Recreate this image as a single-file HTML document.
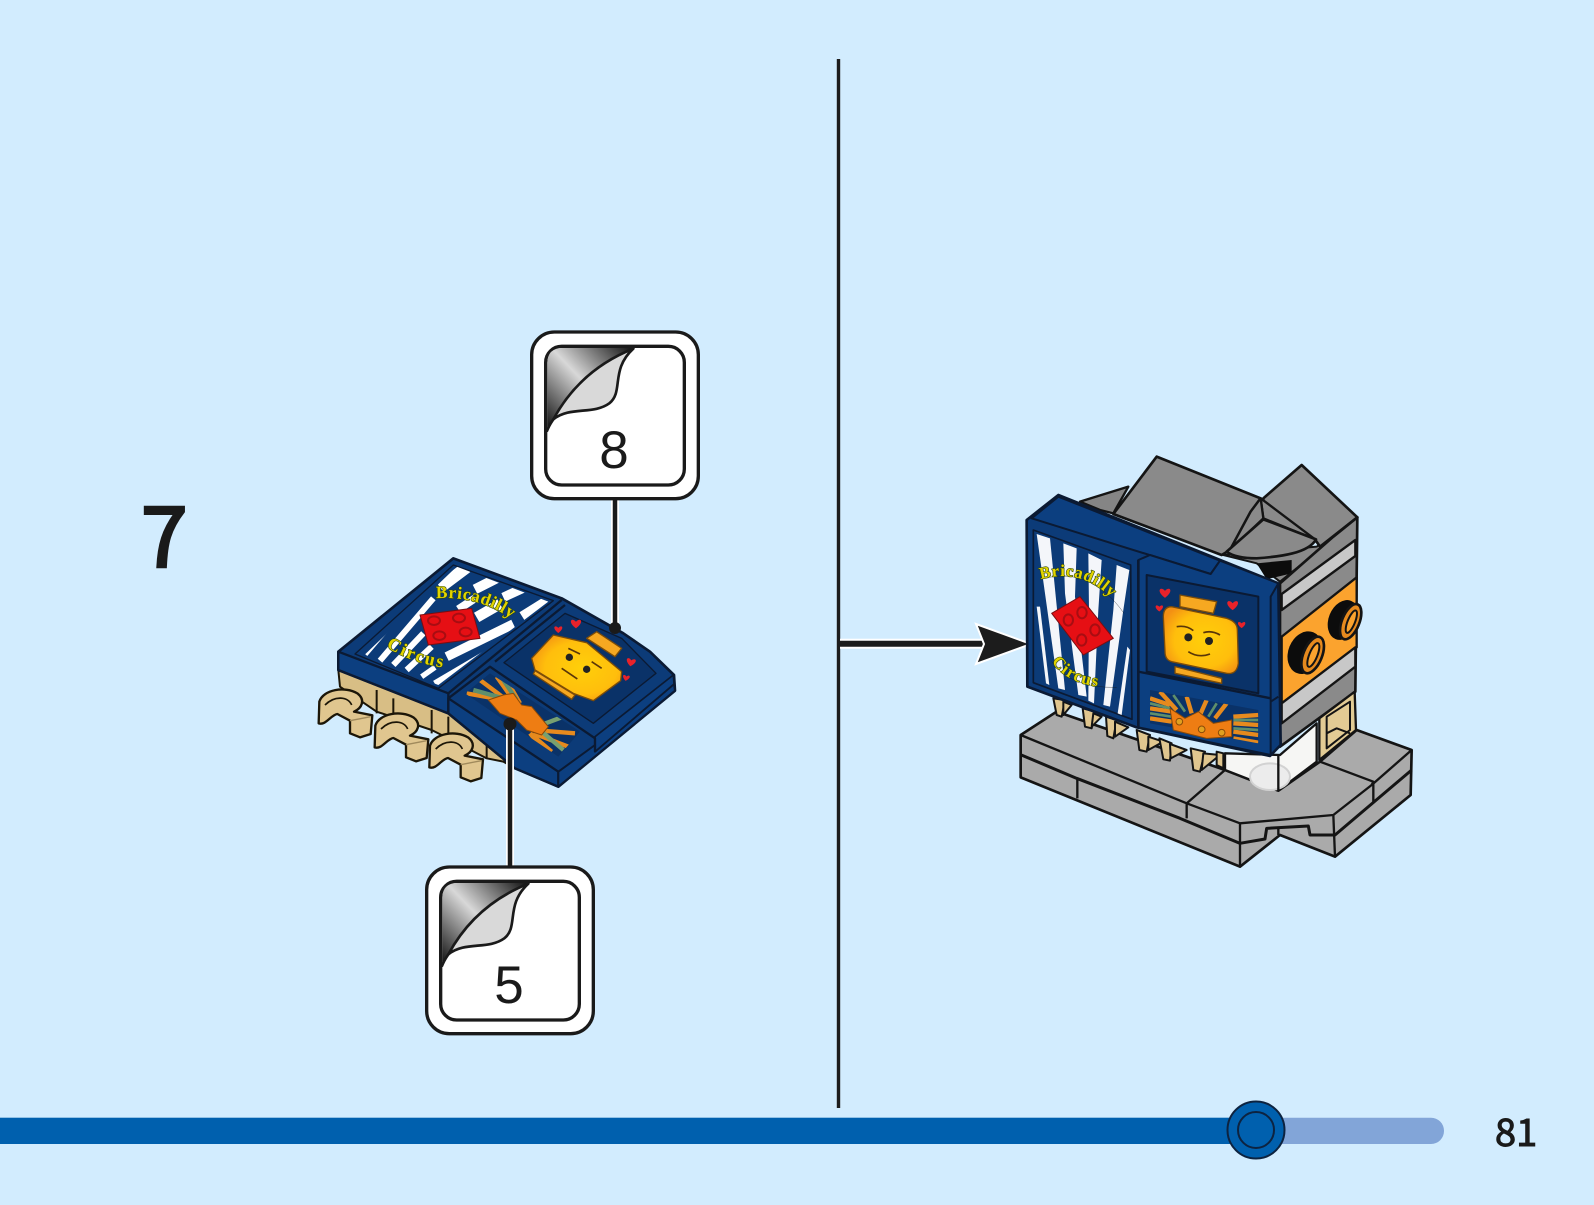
<!DOCTYPE html>
<html><head><meta charset="utf-8"><style>
html,body{margin:0;padding:0;background:#d2ecfe}
svg{display:block}
.n{font-family:"Noto Sans CJK JP","Liberation Sans",sans-serif}
.d{font-family:"Liberation Sans",sans-serif}
.gt{font-family:"Liberation Serif",serif;font-weight:bold;fill:#e2d400;stroke:#2a4410;stroke-width:3.5;paint-order:stroke}
</style></head><body>
<svg width="1594" height="1205" viewBox="0 0 1594 1205" xmlns="http://www.w3.org/2000/svg">
<defs>
<linearGradient id="cg" gradientUnits="userSpaceOnUse" x1="85" y1="330" x2="340" y2="85">
<stop offset="0" stop-color="#111"/><stop offset=".5" stop-color="#d8d8d8"/><stop offset="1" stop-color="#111"/>
</linearGradient>
<radialGradient id="hd" cx=".55" cy=".5" r=".62">
<stop offset="0" stop-color="#ffcf0a"/><stop offset=".65" stop-color="#ffbe0c"/><stop offset="1" stop-color="#f39013"/>
</radialGradient>
<g id="call">
<rect x="35" y="36" width="500" height="500" rx="68" fill="#fff" stroke="#1a1a1a" stroke-width="10"/>
<rect x="77" y="79" width="416" height="416" rx="48" fill="#fff" stroke="#1a1a1a" stroke-width="10"/>
<path d="M82,330 L82,130 Q82,84 128,84 L345,84 Q180,150 82,330Z" fill="url(#cg)"/>
<path d="M340,86 Q180,150 100,298 C150,258 220,285 268,250 C312,215 270,150 340,86Z" fill="#d9d9d9" stroke="#1a1a1a" stroke-width="8" stroke-linejoin="round"/>
<path d="M80,335 C90,310 96,305 100,298" fill="none" stroke="#1a1a1a" stroke-width="8"/>
</g>
<clipPath id="cpL"><path d="M190,378 L470,110 L745,215 L415,465Z"/></clipPath>
<clipPath id="cpBL"><path d="M495,490 L570,430 L840,605 L775,680Z"/></clipPath>
<clipPath id="cpBR"><path d="M450,750 L775,810 L775,910 L450,850Z"/></clipPath>
<g id="claw">
<path d="M58,515 C70,478 135,468 172,490 C198,510 185,535 162,545 L217,556 L212,612 L180,622 L150,610 L150,572 L112,552 C92,555 78,587 56,580Z" fill="#e0c68f" stroke="#1c1608" stroke-width="7" stroke-linejoin="round"/>
<path d="M150,572 L212,560" stroke="#a08a5c" stroke-width="4" fill="none"/>
<path d="M75,525 C105,495 145,500 155,525" stroke="#1c1608" stroke-width="5" fill="none"/>
</g>
<g id="heart"><path d="M0,8 C-14,-8 -30,8 0,30 C30,8 14,-8 0,8Z"/></g>
</defs>
<rect width="1594" height="1205" fill="#d2ecfe"/>

<!-- divider -->
<line x1="838.5" y1="59" x2="838.5" y2="1108" stroke="#1c1c1c" stroke-width="3.4"/>
<!-- step arrow -->
<line x1="840" y1="643.7" x2="985" y2="643.7" stroke="#fff" stroke-width="10"/>
<line x1="840" y1="643.7" x2="985" y2="643.7" stroke="#1c1c1c" stroke-width="6"/>
<path d="M976,624 L1031,644 L976,664 L984,644Z" fill="#1c1c1c" stroke="#fff" stroke-width="2"/>

<!-- step number -->
<text class="n" x="141" y="567" font-size="84" fill="#1a1a1a" stroke="#1a1a1a" stroke-width="2.6">7</text>

<!-- left model -->
<g transform="translate(300,530) scale(.33333)" stroke-linejoin="round">
<path d="M115,420 L445,545 L645,715 L610,695 L560,685 L445,625 L395,600 L230,545 L120,470Z" fill="#d8be85" stroke="#1c1608" stroke-width="6"/>
<path d="M230,480 V550 M280,505 V560 M395,540 V610 M445,560 V620 M560,620 V685" stroke="#1c1608" stroke-width="6"/>
<use href="#claw"/><use href="#claw" x="168" y="72"/><use href="#claw" x="332" y="132"/>

<path d="M115,365 L460,85 L785,205 L970,310 L1050,365 L1122,435 L1125,482 L775,770 L645,715 L445,550 L115,420Z" fill="#0c3b78" stroke="#0b1a33" stroke-width="8"/>
<path d="M115,365 L445,490 L445,550 L115,420Z" fill="#0c3f80" stroke="#0b1a33" stroke-width="7"/>
<path d="M445,505 L775,725 L775,770 L645,715 L445,550Z" fill="#0c3f80" stroke="#0b1a33" stroke-width="7"/>
<path d="M775,725 L885,645 L885,665 L1122,462 L1125,482 L775,770Z" fill="#0c3f80" stroke="#0b1a33" stroke-width="6"/>
<path d="M885,620 L1120,435 L1122,462 L885,665Z" fill="#0c3f80" stroke="#0b1a33" stroke-width="5"/>
<path d="M445,490 L785,210 M445,505 L570,410 L885,625 L885,665 M585,395 L795,225" stroke="#0b1a33" stroke-width="7" fill="none"/>

<path d="M165,372 L460,105 L760,212 L415,475Z" fill="#0c3b78" stroke="#0b1a33" stroke-width="4"/>
<g clip-path="url(#cpL)" stroke="#fff" fill="none" stroke-linecap="butt">
<path d="M195,372 L310,238 M240,392 L400,205" stroke-width="18"/>
<path d="M280,405 L370,310 M320,420 L395,350" stroke-width="18"/>
<path d="M365,440 L405,412" stroke-width="16"/>
<path d="M405,462 L565,368" stroke-width="22"/>
<path d="M440,380 L640,282" stroke-width="28"/>
<path d="M420,172 L500,112" stroke-width="36"/>
<path d="M525,178 L590,145" stroke-width="30"/>
<path d="M475,238 L525,205" stroke-width="24"/>
<path d="M530,262 L600,222" stroke-width="32"/>
<path d="M610,202 L668,175" stroke-width="28"/>
<path d="M668,262 L748,212" stroke-width="36"/>
</g>
<path d="M360,255 L515,235 L540,325 L385,345Z" fill="#e60f14" stroke="#7a0d10" stroke-width="3"/>
<g fill="none" stroke="#a80d12" stroke-width="6">
<ellipse cx="402" cy="272" rx="18" ry="13"/><ellipse cx="477" cy="264" rx="18" ry="13"/><ellipse cx="418" cy="317" rx="18" ry="13"/><ellipse cx="497" cy="306" rx="18" ry="13"/>
</g>
<path id="lt1" d="M408,205 Q560,195 668,295" fill="none"/>
<path id="lt2" d="M258,350 Q340,405 470,418" fill="none"/>
<text class="gt" font-size="52" letter-spacing="2"><textPath href="#lt1">Bricadilly</textPath></text>
<text class="gt" font-size="54" letter-spacing="6"><textPath href="#lt2">Circus</textPath></text>

<path d="M612,398 L795,250 L965,325 L1068,430 L880,580Z" fill="#0a3268" stroke="#0b1a33" stroke-width="4"/>
<g fill="#e8222a"><use href="#heart" transform="translate(828,268) scale(.9)"/><use href="#heart" transform="translate(775,288) scale(.7)"/><use href="#heart" transform="translate(995,385) rotate(10) scale(.8)"/><use href="#heart" transform="translate(980,435) rotate(10) scale(.6)"/></g>
<path d="M860,325 L890,305 L965,355 L945,380Z" fill="#f6a821" stroke="#7c4c08" stroke-width="4"/>
<path d="M695,385 L760,315 L860,338 L965,425 L962,452 L880,512 L820,490 L705,420Z" fill="url(#hd)" stroke="#7c4c08" stroke-width="4"/>
<path d="M705,422 L825,495 L815,508 L700,432Z" fill="#f6a821" stroke="#7c4c08" stroke-width="4"/>
<circle cx="808" cy="382" r="11" fill="#222"/><circle cx="860" cy="418" r="11" fill="#222"/>
<path d="M785,415 L832,447 M805,355 L840,372 M875,395 L905,415" stroke="#5a3608" stroke-width="5" fill="none"/>

<path d="M495,490 L570,430 L840,605 L775,680Z" fill="#0a3268"/>
<g clip-path="url(#cpBL)" fill="none" stroke-width="13">
<path d="M500,490 L610,510 M540,450 L620,510 M590,440 L640,510 M620,450 L660,520" stroke="#e68a1e"/>
<path d="M520,480 L610,505 M610,450 L650,510" stroke="#5f8f6b"/>
<path d="M700,600 L825,610 M700,610 L805,650 M690,610 L755,665 M690,610 L730,660" stroke="#e68a1e"/>
<path d="M710,590 L790,560 M720,600 L790,660" stroke="#78a070"/>
</g>
<path d="M565,510 L610,495 L640,490 L665,525 L695,530 L745,590 L725,615 L680,600 L650,570 L600,550Z" fill="#ee7d13" stroke="#8a4a08" stroke-width="3"/>
</g>

<!-- right model -->
<g transform="translate(1000,440) scale(.33333)" stroke-linejoin="round" stroke="#141414">
<!-- base -->
<path d="M62,885 L62,1012 L720,1280 L840,1185 L1005,1250 L1232,1065 L1235,930 L1070,870 L960,965 L835,1052 L675,990 L170,815Z" fill="#aaaaaa" stroke-width="8"/>
<path d="M62,885 L560,1090 L720,1150 L1000,1125 L1115,1035 L1235,930" fill="none" stroke-width="7"/>
<path d="M960,965 L1120,1025 L1120,1085 M1120,1025 L1115,1035" fill="none" stroke-width="7"/>
<path d="M64,945 L230,1015 L540,1135 L720,1210 L795,1197 L800,1165 L925,1158 L930,1185 L1005,1185 L1235,990" fill="none" stroke-width="9"/>
<path d="M720,1150 V1280 M1000,1125 L1005,1250 M232,1015 V1075 M560,1090 V1135 M560,1090 L675,990 M835,1160 V1185" fill="none" stroke-width="7"/>

<!-- roof -->
<path d="M240,185 L385,140 L340,220 L300,210Z" fill="#858585" stroke-width="7"/>
<path d="M670,345 L770,370 L840,425 L1070,240 L1000,285 L950,320 Z" fill="#8a8a8a" stroke-width="6"/>
<path d="M790,175 L905,75 L1072,232 L960,320 L945,298 L790,235Z" fill="#8a8a8a" stroke-width="8"/>
<path d="M340,222 L470,50 L782,175 L752,215 L690,330 L665,345Z" fill="#8a8a8a" stroke-width="8"/>
<path d="M782,175 L790,235 L945,298 Z" fill="#8a8a8a" stroke-width="7"/>
<path d="M782,175 L752,215 L690,330 L790,235Z" fill="#8a8a8a" stroke-width="7"/>
<path d="M680,335 L790,238 L948,298 C925,340 840,350 770,355 C730,355 700,350 680,335Z" fill="#8a8a8a" stroke-width="8"/>
<path d="M770,370 L875,360 L875,400 L800,418Z" fill="#0c0c0c" stroke="none"/>
<!-- side -->
<path d="M840,430 L1000,290 L1072,232 L1066,755 L840,920Z" fill="#8a8a8a" stroke-width="8"/>
<path d="M845,462 L1066,300 L1066,348 L845,510Z" fill="#c8c8c8" stroke-width="7"/>
<path d="M845,590 L1070,412 L1070,622 L845,790Z" fill="#fba32e" stroke-width="7"/>
<path d="M845,790 L1066,622 L1066,680 L845,850Z" fill="#c8c8c8" stroke-width="7"/>
<!-- white brick -->
<path d="M675,940 L840,945 L950,850 L950,965 L835,1052 L675,990Z" fill="#f6f6f4" stroke-width="7"/>
<ellipse cx="810" cy="1010" rx="60" ry="40" fill="#ececec" stroke="#d2d2d2" stroke-width="6"/>
<path d="M835,1052 V945" stroke-width="7"/>
<!-- tan -->
<path d="M958,835 L1064,755 L1068,870 L958,960Z" fill="#e2cb94" stroke-width="7"/>
<path d="M980,830 L1050,785 L1050,870 L980,925Z M980,880 L1010,865 L1050,880" fill="none" stroke-width="6"/>
<!-- studs -->
<g>
<ellipse cx="1030" cy="540" rx="44" ry="62" transform="rotate(22 1030 540)" fill="#0c0c0c" stroke="none"/>
<ellipse cx="1052" cy="545" rx="26" ry="56" transform="rotate(22 1052 545)" fill="#e68a1e" stroke-width="8"/>
<ellipse cx="1054" cy="545" rx="11" ry="36" transform="rotate(22 1054 545)" fill="#fba32e" stroke-width="6"/>
<ellipse cx="915" cy="638" rx="50" ry="66" transform="rotate(22 915 638)" fill="#0c0c0c" stroke="none"/>
<ellipse cx="938" cy="645" rx="28" ry="58" transform="rotate(22 938 645)" fill="#e68a1e" stroke-width="8"/>
<ellipse cx="940" cy="645" rx="12" ry="38" transform="rotate(22 940 645)" fill="#fba32e" stroke-width="6"/>
</g>

<!-- legs -->
<g fill="#e0c68f" stroke-width="6">
<path d="M160,775 L195,780 L185,830 L170,825Z"/><path d="M190,785 L215,795 L190,825Z"/>
<path d="M248,805 L285,815 L275,865 L255,860Z"/><path d="M280,820 L305,830 L275,860Z"/>
<path d="M318,830 L350,840 L340,895 L322,888Z"/><path d="M345,845 L385,862 L345,890Z"/>
<path d="M410,870 L450,885 L440,935 L418,930Z"/><path d="M445,890 L490,905 L445,930Z"/>
<path d="M478,895 L515,910 L510,962 L490,958Z"/><path d="M510,912 L560,930 L512,955Z"/>
<path d="M572,925 L615,935 L600,995 L580,990Z"/><path d="M610,940 L660,945 L605,990Z"/><path d="M650,935 L670,940 L670,985 L650,975Z"/>
</g>

<!-- panel -->
<path d="M80,240 L175,165 L835,430 L842,915 L810,948 L410,862 L82,740Z" fill="#0c3b78" stroke="#0b1a33" stroke-width="8"/>
<path d="M95,235 L175,170 L660,362 L632,402Z" fill="#0c3f80" stroke="#0b1a33" stroke-width="6"/>
<path d="M415,360 L450,345 L632,402 L660,362 L835,430 L812,470 L812,945 L415,862Z" fill="#0c3f80" stroke="#0b1a33" stroke-width="6"/>
<path d="M812,775 L415,695" fill="none" stroke="#0b1a33" stroke-width="7"/>
<path d="M835,770 L812,785" fill="none" stroke="#0b1a33" stroke-width="6"/>
<path d="M415,360 L415,862" stroke="#0b1a33" stroke-width="8"/>

<!-- left stripes -->
<path d="M100,270 L392,375 L396,838 L100,728Z" fill="#0c3b78" stroke="#0b1a33" stroke-width="5"/>
<g transform="translate(60,210)" fill="#f4f6fa" stroke="none">
<path d="M50,72 L90,85 L135,540 L115,535Z"/>
<path d="M50,290 L60,290 L88,525 L78,520Z"/>
<path d="M130,100 L170,115 L165,260 L200,560 L175,555 L135,250Z"/>
<path d="M205,130 L245,150 L235,300 L222,580 L205,572 L207,300Z"/>
<path d="M290,165 L328,180 L310,300 L270,590 L250,585 L280,300Z"/>
<path d="M322,410 L330,420 L305,615 L293,610Z"/>
</g>
<path d="M155,520 L240,470 L340,595 L250,645Z" fill="#e60f14" stroke="#7a0d10" stroke-width="3"/>
<g fill="none" stroke="#a80d12" stroke-width="6">
<ellipse cx="205" cy="540" rx="14" ry="17"/><ellipse cx="246" cy="518" rx="14" ry="17"/><ellipse cx="245" cy="600" rx="14" ry="17"/><ellipse cx="285" cy="570" rx="14" ry="17"/>
</g>
<path id="rt1" d="M122,418 Q270,375 372,520" fill="none"/>
<path id="rt2" d="M155,665 Q210,745 350,742" fill="none"/>
<text class="gt" font-size="50" letter-spacing="2"><textPath href="#rt1">Bricadilly</textPath></text>
<text class="gt" font-size="50" letter-spacing="4"><textPath href="#rt2">Circus</textPath></text>

<!-- face window -->
<path d="M440,405 L775,470 L775,760 L440,695Z" fill="#0a3268" stroke="#0b1a33" stroke-width="6"/>
<g fill="#e8222a" stroke="none"><use href="#heart" transform="translate(495,445) scale(.95)"/><use href="#heart" transform="translate(478,495) scale(.65)"/><use href="#heart" transform="translate(698,482) scale(.95)"/><use href="#heart" transform="translate(725,545) scale(.65)"/></g>
<path d="M540,465 L650,485 L640,520 L540,500Z" fill="#f6a821" stroke="#7c4c08" stroke-width="4"/>
<path d="M525,680 L665,715 L665,730 L525,700Z" fill="#f6a821" stroke="#7c4c08" stroke-width="4"/>
<path d="M490,530 Q490,500 515,500 L680,535 Q712,545 712,570 L715,670 Q710,705 680,700 L515,665 Q495,660 495,635Z" fill="url(#hd)" stroke="#7c4c08" stroke-width="4"/>
<circle cx="565" cy="592" r="12" fill="#222" stroke="none"/><circle cx="627" cy="603" r="12" fill="#222" stroke="none"/>
<path d="M530,560 Q560,555 580,572 M610,578 Q635,570 660,585 M565,635 Q595,655 630,642" stroke="#5a3608" stroke-width="5" fill="none"/>

<!-- banner -->
<path d="M450,750 L775,810 L775,910 L450,850Z" fill="#0a3268" stroke="none"/>
<g clip-path="url(#cpBR)" fill="none" stroke-width="13" stroke="#e68a1e">
<path d="M450,775 L510,795 M450,805 L515,815 M450,835 L515,845 M480,755 L530,810 M560,770 L575,820 M620,780 L600,825 M680,790 L645,835 M700,830 L775,825 M700,850 L775,855 M700,875 L775,885 M700,895 L775,908"/>
<path d="M450,790 L510,805 M450,820 L515,830 M520,765 L555,815 M650,790 L625,830 M700,840 L775,840 M700,865 L775,870" stroke="#5f8f6b" stroke-width="8"/>
</g>
<path d="M510,805 L555,835 L595,815 L640,850 L695,840 L695,890 L620,895 L520,870Z" fill="#ee7d13" stroke="#8a4a08" stroke-width="3"/>
<circle cx="538" cy="845" r="10" fill="#e0a020" stroke="#8a4a08" stroke-width="3"/><circle cx="605" cy="868" r="10" fill="#e0a020" stroke="#8a4a08" stroke-width="3"/><circle cx="665" cy="878" r="10" fill="#e0a020" stroke="#8a4a08" stroke-width="3"/>
</g>

<!-- connectors -->
<line x1="615" y1="498" x2="615" y2="628" stroke="#fff" stroke-width="8"/>
<line x1="615" y1="498" x2="615" y2="628" stroke="#1a1a1a" stroke-width="4.5"/>
<circle cx="615" cy="628" r="6" fill="#1a1a1a"/>
<line x1="510" y1="724" x2="510" y2="867" stroke="#fff" stroke-width="8"/>
<line x1="510" y1="724" x2="510" y2="867" stroke="#1a1a1a" stroke-width="4.5"/>
<circle cx="510" cy="724" r="6.5" fill="#1a1a1a"/>

<!-- callouts -->
<g transform="translate(520,320) scale(.33333)"><use href="#call"/></g>
<text class="d" x="614" y="468" font-size="53" text-anchor="middle" fill="#1a1a1a">8</text>
<g transform="translate(415,855) scale(.33333)"><use href="#call"/></g>
<text class="d" x="509" y="1003" font-size="53" text-anchor="middle" fill="#1a1a1a">5</text>

<!-- progress -->
<rect x="1240" y="1117.7" width="204" height="26.3" rx="13" fill="#82a5d8"/>
<rect x="0" y="1117.7" width="1256" height="26.3" fill="#0060ae"/>
<circle cx="1256" cy="1130" r="28.5" fill="#0060ae" stroke="#0d2340" stroke-width="2"/>
<circle cx="1256" cy="1130" r="18" fill="#0060ae" stroke="#0d2340" stroke-width="2"/>
<text class="n" x="1495" y="1146" font-size="38" fill="#1a1a1a" stroke="#1a1a1a" stroke-width="1">81</text>
</svg>
</body></html>
